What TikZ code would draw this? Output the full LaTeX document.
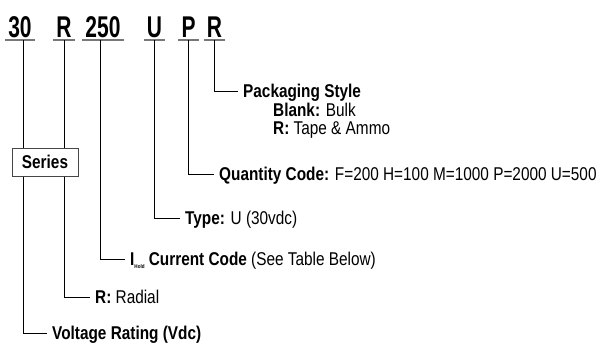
\documentclass[tikz,border=0pt]{standalone}
\usepackage{fontspec}
\setmainfont{Liberation Sans}[FakeStretch=0.83]
\newfontfamily\codefont{Liberation Sans}[FakeStretch=0.7]
\usepackage{xcolor}
\usetikzlibrary{positioning}
\definecolor{ulinegray}{RGB}{120, 120, 120}
\definecolor{boxgray}{RGB}{70, 70, 70}

\begin{document}
\begin{tikzpicture}[
    x=1pt, y=-1pt,
    code/.style={font=\codefont\bfseries\fontsize{30}{32}\selectfont, anchor=south,
                 inner xsep=3pt, inner ysep=2pt, text depth=0pt},
    uline/.style={draw=ulinegray, line width=1.4pt},
    lead/.style={draw=black, line width=0.8pt},
    lbl/.style={anchor=west, inner xsep=5pt, inner ysep=0pt, text height=13pt,
                text depth=0pt, font=\fontsize{18.5}{21}\selectfont},
    seriesbox/.style={draw=boxgray, fill=white, line width=0.9pt, minimum width=66pt,
                      minimum height=28pt, inner sep=0pt,
                      font=\bfseries\fontsize{18.5}{21}\selectfont}
]
    \useasboundingbox (0,0) rectangle (604,343);

    % ==================== PART NUMBER ====================
    \node[code] (c30) at (20,40) {30};
    \node[code] (cR) at (64,40) {R};
    \node[code] (c250) at (103,40) {250};
    \node[code] (cU) at (154.5,40) {U};
    \node[code] (cP) at (188.5,40) {P};
    \node[code] (cR2) at (214.5,40) {R};

    \foreach \c in {c30, cR, c250, cU, cP, cR2}
        \draw[uline] (\c.south west) -- (\c.south east);

    % ==================== LABELS ====================
    \node[lbl, font=\bfseries\fontsize{18.5}{21}\selectfont] (pkg) at (238,91) {Packaging Style};
    \node[lbl] (blank) at (268,110) {\textbf{Blank:} Bulk};
    \node[lbl] (tape) at (268,128) {\textbf{R:} Tape \& Ammo};
    \node[lbl] (qty) at (214,174) {\textbf{Quantity Code:} F=200 H=100 M=1000 P=2000 U=500};
    \node[lbl] (typ) at (180,218) {\textbf{Type:} U (30vdc)};
    \node[lbl] (cur) at (125,259)
        {\textbf{I\raisebox{-2.5pt}{\fontsize{5.5}{6}\selectfont Hold}\ Current Code} (See Table Below)};
    \node[lbl] (rad) at (90,297) {\textbf{R:} Radial};
    \node[lbl, font=\bfseries\fontsize{18.5}{21}\selectfont] (volt) at (47,333) {Voltage Rating (Vdc)};

    % ==================== LEADERS ====================
    \draw[lead] ([xshift=3pt]c30.south) |- (volt.west);
    \draw[lead] (cR.south) |- (rad.west);
    \draw[lead] ([xshift=-3pt]c250.south) |- (cur.west);
    \draw[lead] (cU.south) |- (typ.west);
    \draw[lead] (cP.south) |- (qty.west);
    \draw[lead] (cR2.south) |- (pkg.west);

    % series box sits on top of both leaders
    \node[seriesbox] (ser) at (45,162) {Series};
\end{tikzpicture}
\end{document}
